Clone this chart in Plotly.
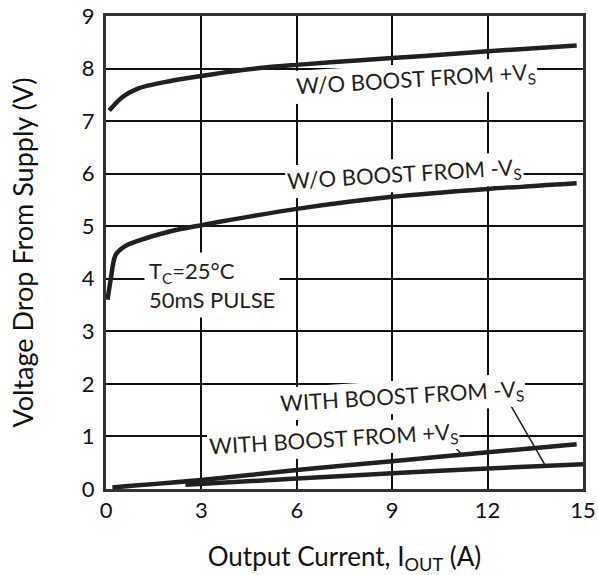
import numpy as np
import plotly.graph_objects as go

# W/O boost from +Vs
x_wo_pos = [0.1, 0.5, 1.0, 2.0, 3.0, 4.0, 5.0, 6.0, 8.0, 10.0, 12.0, 14.8]
y_wo_pos = [7.2, 7.45, 7.62, 7.76, 7.86, 7.95, 8.02, 8.07, 8.16, 8.24, 8.33, 8.44]
# W/O boost from -Vs
x_wo_neg = [0.05, 0.15, 0.3, 0.6, 1.0, 2.0, 3.0, 4.0, 6.0, 9.0, 12.0, 14.8]
y_wo_neg = [3.6, 4.0, 4.45, 4.62, 4.72, 4.9, 5.02, 5.13, 5.33, 5.56, 5.71, 5.82]
# With boost from +Vs
x_w_pos = [0.2, 3.0, 6.0, 9.0, 12.0, 14.8]
y_w_pos = [0.03, 0.17, 0.36, 0.53, 0.70, 0.85]
# With boost from -Vs
x_w_neg = [2.5, 6.0, 9.0, 12.0, 15.0]
y_w_neg = [0.08, 0.20, 0.30, 0.39, 0.47]

x_ticks = [0, 3, 6, 9, 12, 15]
y_ticks = [0, 1, 2, 3, 4, 5, 6, 7, 8, 9]

FONT = "Lato"
INK = "#231f20"

fig = go.Figure()
for xs, ys in [(x_wo_pos, y_wo_pos), (x_wo_neg, y_wo_neg), (x_w_pos, y_w_pos), (x_w_neg, y_w_neg)]:
    fig.add_trace(go.Scatter(x=xs, y=ys, mode="lines",
                             line=dict(color=INK, width=4.5, shape="spline", smoothing=0.8),
                             showlegend=False, hoverinfo="skip"))

lab_font = dict(family=FONT, size=22, color=INK)
def label(text, x, y, angle):
    fig.add_annotation(x=x, y=y, text=text, showarrow=False, textangle=angle,
                       font=lab_font, bgcolor="white", borderpad=1)

label("W/O BOOST FROM +V<sub>S</sub>", 9.76, 7.78, -3.5)
label("W/O BOOST FROM -V<sub>S</sub>", 9.38, 5.97, -3.5)
label("WITH BOOST FROM -V<sub>S</sub>", 9.31, 1.76, -3.5)
label("WITH BOOST FROM +V<sub>S</sub>", 7.15, 0.93, -3.5)

fig.add_annotation(x=1.2, y=3.88, xanchor="left", align="left", showarrow=False,
                   text="T<sub>C</sub>=25°C<br>50mS PULSE", font=lab_font,
                   bgcolor="white", borderpad=4)

# leader lines from label to curve
px_lead = 11.2
fig.add_shape(type="line", xref="x", yref="y", x0=10.67, y0=0.97,
              x1=px_lead, y1=float(np.interp(px_lead, x_w_pos, y_w_pos)),
              line=dict(color=INK, width=1.5))
nx_lead = 13.82
fig.add_shape(type="line", xref="x", yref="y", x0=12.65, y0=1.67,
              x1=nx_lead, y1=float(np.interp(nx_lead, x_w_neg, y_w_neg)),
              line=dict(color=INK, width=1.5))

axis_common = dict(showgrid=True, gridcolor="#111", gridwidth=1.5, zeroline=False,
                   showline=True, linecolor="#333", linewidth=3, mirror=True,
                   ticks="", automargin=False, ticklabeloverflow="allow",
                   tickfont=dict(family=FONT, size=22, color="#111"))

fig.update_xaxes(range=[0, 15], tickvals=x_ticks, ticktext=[str(v) for v in x_ticks],
                 title=dict(text="Output Current, I<sub>OUT</sub> (A)",
                            font=dict(family=FONT, size=26, color="#111"), standoff=28),
                 ticklabelstandoff=0, **axis_common)
fig.update_yaxes(range=[0, 9], tickvals=y_ticks, ticktext=[str(v) for v in y_ticks],
                 title=dict(text="Voltage Drop From Supply (V)",
                            font=dict(family=FONT, size=27, color="#111"), standoff=41),
                 ticklabelstandoff=4, **axis_common)

fig.update_layout(width=598, height=575, margin=dict(l=106, r=15, t=16, b=86),
                  plot_bgcolor="white", paper_bgcolor="white")

fig.write_html("out.html", config={"displayModeBar": False},
               post_script="document.body.style.margin='0';")
